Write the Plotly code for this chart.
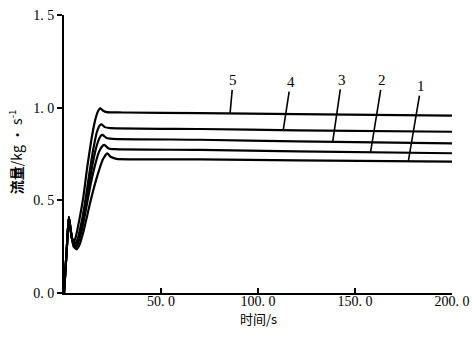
import numpy as np
import plotly.graph_objects as go

# ---- data ----
t1 = [0, 1.5, 2.5, 4, 5, 6.5, 8, 10, 12, 14, 16, 18, 20, 22.3, 24, 27, 70, 120, 200]
y1 = [0, 0.25, 0.41, 0.30, 0.25, 0.235, 0.26, 0.33, 0.42, 0.51, 0.59, 0.66, 0.72, 0.754, 0.735, 0.724, 0.721, 0.716, 0.709]

t2 = [0, 1.5, 2.5, 4, 5, 6, 8, 10, 12, 14, 16, 18, 20, 20.8, 23, 26, 70, 120, 200]
y2 = [0, 0.25, 0.41, 0.30, 0.255, 0.245, 0.29, 0.38, 0.49, 0.60, 0.69, 0.76, 0.795, 0.799, 0.78, 0.776, 0.772, 0.764, 0.754]

t3 = [0, 1.5, 2.5, 4, 5.5, 7, 9, 11, 13, 15, 17, 19, 19.9, 22, 25, 70, 120, 200]
y3 = [0, 0.25, 0.41, 0.30, 0.255, 0.27, 0.35, 0.46, 0.59, 0.71, 0.80, 0.848, 0.853, 0.836, 0.832, 0.827, 0.818, 0.807]

t4 = [0, 1.5, 2.5, 4, 5.5, 7, 9, 11, 13, 15, 17, 18.5, 19.4, 21, 24, 70, 120, 200]
y4 = [0, 0.25, 0.41, 0.30, 0.265, 0.29, 0.38, 0.50, 0.64, 0.77, 0.87, 0.905, 0.91, 0.895, 0.890, 0.885, 0.878, 0.870]

t5 = [0, 1.5, 2.5, 4, 5, 6, 8, 10, 12, 14, 16, 17.5, 18.6, 20, 22, 30, 70, 120, 200]
y5 = [0, 0.25, 0.41, 0.30, 0.275, 0.30, 0.40, 0.52, 0.68, 0.82, 0.93, 0.98, 0.997, 0.985, 0.976, 0.974, 0.971, 0.965, 0.957]

series_t = [t1, t2, t3, t4, t5]
series_y = [y1, y2, y3, y4, y5]
series_names = ["1", "2", "3", "4", "5"]

# where each leader line touches its curve (time, s)
label_t = [177.5, 158, 138.5, 113, 85.6]
# text offsets (pixels) of the labels relative to the touch point
label_ax = [12.7, 11.7, 9, 7.4, 3]
label_ay = [-75, -72, -62, -48, -33]

x_tickvals = [50, 100, 150, 200]
x_ticktext = ["50. 0", "100. 0", "150. 0", "200. 0"]
y_tickvals = [0, 0.5, 1.0, 1.5]
y_ticktext = ["0. 0", "0. 5", "1. 0", "1. 5"]

serif = "Liberation Serif, DejaVu Serif, serif"
cjk = "Noto Sans CJK SC, sans-serif"

fig = go.Figure()
for t, y, n in zip(series_t, series_y, series_names):
    fig.add_trace(go.Scatter(x=t, y=y, mode="lines", name=n,
                             line=dict(color="black", width=2.2, shape="spline", smoothing=0.5),
                             showlegend=False, hoverinfo="skip"))

for t, y, n, lt, ax, ay in zip(series_t, series_y, series_names, label_t, label_ax, label_ay):
    fig.add_annotation(x=lt, y=float(np.interp(lt, t, y)), text=n,
                       showarrow=True, arrowhead=0, arrowwidth=1.6, arrowcolor="black",
                       ax=ax, ay=ay, standoff=0, startstandoff=0,
                       font=dict(family=serif, size=15, color="black"))

# axis titles placed as paper annotations
fig.add_annotation(xref="paper", yref="paper", x=0.5, y=-0.0935, xanchor="center", yanchor="middle",
                   text="时间/s", showarrow=False, font=dict(family=cjk, size=13, color="black"))
fig.add_annotation(xref="paper", yref="paper", x=-0.126, y=0.507, xanchor="center", yanchor="middle",
                   text="<b>流量</b>/kg · s<sup>-1</sup>", textangle=-90, showarrow=False,
                   font=dict(family=cjk, size=14, color="black"))

fig.update_layout(
    width=474, height=340,
    margin=dict(l=64, r=22, t=15, b=47),
    plot_bgcolor="white", paper_bgcolor="white",
    font=dict(family=serif, size=14, color="black"),
)
fig.update_xaxes(range=[0, 200], tickvals=x_tickvals, ticktext=x_ticktext, automargin=False,
                 showline=True, linecolor="black", linewidth=2, showgrid=False, zeroline=False,
                 ticks="inside", ticklen=5, tickwidth=1.5, tickcolor="black", ticklabelstandoff=-6,
                 ticklabeloverflow="allow")
fig.update_yaxes(range=[0, 1.5], tickvals=y_tickvals, ticktext=y_ticktext, automargin=False,
                 showline=True, linecolor="black", linewidth=2, showgrid=False, zeroline=False,
                 ticks="outside", ticklen=5, tickwidth=1.5, tickcolor="black",
                 ticklabeloverflow="allow")

fig.write_html("out.html", config={"displayModeBar": False},
               post_script="document.body.style.margin='0';")
